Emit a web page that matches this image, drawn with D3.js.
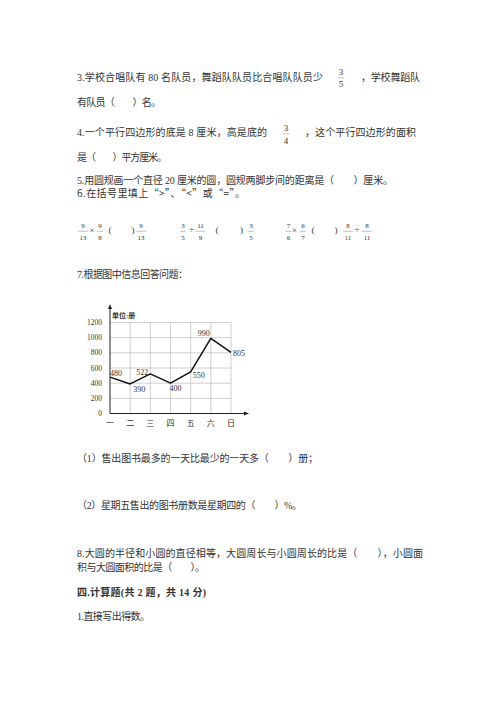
<!DOCTYPE html>
<html>
<head>
<meta charset="utf-8">
<script src="https://cdn.jsdelivr.net/npm/d3@7"></script>
<style>
    body { margin: 0; background: #fff; }
    text { font-family: "Liberation Serif", "Noto Sans CJK SC", serif; fill: #333; }
</style>
</head>
<body>
<svg id="page" width="500" height="708"></svg>
<script>
    'use strict';

    // chart data (question 7)
    var days = ['一', '二', '三', '四', '五', '六', '日'];
    var sold = [480, 390, 522, 400, 550, 990, 805];
    var yTicks = [0, 200, 400, 600, 800, 1000, 1200];
    var unitLabel = '单位:册';

    var svg = d3.select('#page');

    // page text, one entry per printed line
    var lines = [
        {t: '3.学校合唱队有 80 名队员，舞蹈队队员比合唱队队员少', x: 77, y: 80.5, w: 246},
        {t: '，学校舞蹈队', x: 361, y: 80.5, w: 59},
        {t: '有队员（　　）名。', x: 77, y: 105.5, w: 84},
        {t: '4.一个平行四边形的底是 8 厘米，高是底的', x: 77, y: 135.5, w: 190},
        {t: '，这个平行四边形的面积', x: 305, y: 135.5, w: 111},
        {t: '是（　　）平方厘米。', x: 77, y: 160.8, w: 90},
        {t: '5.用圆规画一个直径 20 厘米的圆，圆规两脚步间的距离是（　　）厘米。', x: 77, y: 183.8, w: 316},
        {t: '6.在括号里填上“>”、“<”或“=”。', x: 77, y: 197.3, w: 168, cjk: true},
        {t: '7.根据图中信息回答问题：', x: 77, y: 278.3, w: 111},
        {t: '（1）售出图书最多的一天比最少的一天多（　　）册；', x: 77, y: 461.8, w: 241},
        {t: '（2）星期五售出的图书册数是星期四的（　　）%。', x: 77, y: 508.8, w: 225},
        {t: '8.大圆的半径和小圆的直径相等，大圆周长与小圆周长的比是（　　），小圆面', x: 77, y: 556.8, w: 346},
        {t: '积与大圆面积的比是（　　）。', x: 77, y: 570.8, w: 128},
        {t: '四.计算题(共 2 题，共 14 分)', x: 77, y: 595.8, w: 129, bold: true},
        {t: '1.直接写出得数。', x: 77, y: 619.8, w: 73}
    ];

    svg.selectAll('text.line')
        .data(lines)
        .enter().append('text')
        .attr('class', 'line')
        .attr('x', function(d) { return d.x; })
        .attr('y', function(d) { return d.y; })
        .attr('textLength', function(d) { return d.w; })
        .attr('lengthAdjust', 'spacing')
        .style('font-size', '10px')
        .style('font-family', function(d) { return d.cjk ? '"Noto Sans CJK SC"' : null; })
        .style('font-weight', function(d) { return d.bold ? 700 : 400; })
        .style('white-space', 'pre')
        .text(function(d) { return d.t; });

    function fraction(cx, num, den, yNum, yDen, size) {
        var g = svg.append('g').style('font-size', size + 'px');
        g.append('text').attr('x', cx).attr('y', yNum).attr('text-anchor', 'middle').text(num);
        g.append('text').attr('x', cx).attr('y', yDen).attr('text-anchor', 'middle').text(den);
        var half = Math.max(String(num).length, String(den).length) * size * 0.28 + 1;
        g.append('line')
            .attr('x1', cx - half).attr('x2', cx + half)
            .attr('y1', (yNum + yDen) / 2 - size * 0.35).attr('y2', (yNum + yDen) / 2 - size * 0.35)
            .attr('stroke', '#999').attr('stroke-width', 0.6);
    }

    function glyph(cx, y, s, size) {
        svg.append('text').attr('x', cx).attr('y', y).attr('text-anchor', 'middle')
            .style('font-size', size + 'px').text(s);
    }

    // fractions inside questions 3 and 4
    fraction(341, 3, 5, 75, 87, 9);
    fraction(286, 3, 4, 130.5, 143.5, 9);

    // question 6 comparison row
    var fy1 = 227.5, fy2 = 240, fs = 7;
    fraction(83, 9, 13, fy1, fy2, fs);   glyph(92, 233, '×', 9);
    fraction(100, 9, 8, fy1, fy2, fs);   glyph(110, 233, '(', 9); glyph(133, 233, ')', 9);
    fraction(141, 9, 13, fy1, fy2, fs);

    fraction(183, 3, 5, fy1, fy2, fs);   glyph(191.5, 233, '÷', 9);
    fraction(200.5, 11, 9, fy1, fy2, fs); glyph(217, 233, '(', 9); glyph(241.5, 233, ')', 9);
    fraction(251, 3, 5, fy1, fy2, fs);

    fraction(288.5, 7, 6, fy1, fy2, fs); glyph(294.5, 233, '×', 9);
    fraction(303, 6, 7, fy1, fy2, fs);   glyph(313, 233, '(', 9); glyph(336, 233, ')', 9);
    fraction(348, 8, 11, fy1, fy2, fs);  glyph(357, 233, '÷', 9);
    fraction(367, 8, 11, fy1, fy2, fs);

    // line chart
    var x = d3.scalePoint().domain(days).range([110, 231]);
    var y = d3.scaleLinear().domain([0, 1200]).range([413.5, 322.5]);
    var chart = svg.append('g');

    chart.selectAll('line.h')
        .data(yTicks.slice(1))
        .enter().append('line')
        .attr('x1', x(days[0])).attr('x2', x(days[days.length - 1]))
        .attr('y1', function(d) { return y(d); }).attr('y2', function(d) { return y(d); })
        .attr('stroke', '#c4c4c4').attr('stroke-width', 0.8);

    chart.selectAll('line.v')
        .data(days.slice(1))
        .enter().append('line')
        .attr('x1', function(d) { return x(d); }).attr('x2', function(d) { return x(d); })
        .attr('y1', y(1200)).attr('y2', y(0))
        .attr('stroke', '#c4c4c4').attr('stroke-width', 0.8);

    // axes with arrow heads
    var x0 = x(days[0]), y0 = y(0);
    chart.append('line').attr('x1', x0).attr('x2', x0).attr('y1', y0).attr('y2', 307)
        .attr('stroke', '#222').attr('stroke-width', 1);
    chart.append('path').attr('d', 'M' + x0 + ',304 l-2,5 l4,0 z').attr('fill', '#222');
    chart.append('line').attr('x1', x0).attr('x2', 246).attr('y1', y0).attr('y2', y0)
        .attr('stroke', '#222').attr('stroke-width', 1);
    chart.append('path').attr('d', 'M249,' + y0 + ' l-5,-2 l0,4 z').attr('fill', '#222');

    chart.selectAll('text.ytick')
        .data(yTicks)
        .enter().append('text')
        .attr('x', 102).attr('y', function(d) { return y(d); })
        .attr('dy', '0.35em').attr('text-anchor', 'end')
        .style('font-size', '7.5px')
        .text(function(d) { return d; });

    chart.selectAll('text.day')
        .data(days)
        .enter().append('text')
        .attr('x', function(d) { return x(d); }).attr('y', 425.5)
        .attr('text-anchor', 'middle')
        .style('font-size', '8px')
        .text(function(d) { return d; });

    chart.append('text').attr('x', 112).attr('y', 318)
        .style('font-size', '7px').style('font-weight', 700)
        .text(unitLabel);

    var line = d3.line()
        .x(function(d, i) { return x(days[i]); })
        .y(function(d) { return y(d); });

    chart.append('path').datum(sold)
        .attr('d', line)
        .attr('fill', 'none').attr('stroke', '#111').attr('stroke-width', 1.5)
        .attr('stroke-linejoin', 'round');

    // where each value label sits relative to its point
    var labelPlace = [
        {dx: 0, dy: -1.5, anchor: 'start'},
        {dx: 3, dy: 8, anchor: 'start'},
        {dx: -2, dy: 1, anchor: 'end'},
        {dx: -1, dy: 8, anchor: 'start'},
        {dx: 2, dy: 6, anchor: 'start'},
        {dx: -1, dy: -2, anchor: 'end'},
        {dx: 2, dy: 3.5, anchor: 'start'}
    ];

    chart.selectAll('text.val')
        .data(sold)
        .enter().append('text')
        .attr('x', function(d, i) { return x(days[i]) + labelPlace[i].dx; })
        .attr('y', function(d, i) { return y(d) + labelPlace[i].dy; })
        .attr('text-anchor', function(d, i) { return labelPlace[i].anchor; })
        .style('font-size', '8px')
        .text(function(d) { return d; });
</script>
</body>
</html>
